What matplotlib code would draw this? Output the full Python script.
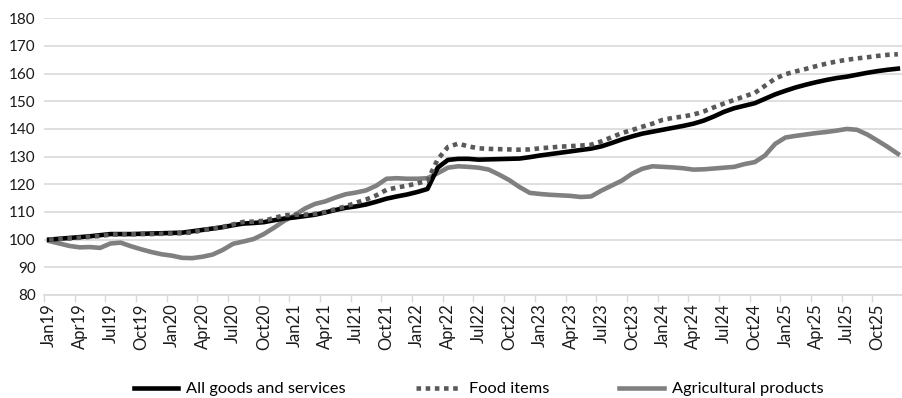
import numpy as np
import pandas as pd
import matplotlib
matplotlib.use("Agg")
import matplotlib.pyplot as plt

plt.rcParams['font.family'] = ['Lato', 'DejaVu Sans']

# monthly index, Jan 2019 = 100
months = pd.date_range('2019-01-01', '2025-12-01', freq='MS')
month_labels = [d.strftime('%b%y') for d in months]

all_goods = [
    100.0, 100.3, 100.6, 100.9, 101.2, 101.6, 102.0, 102.0, 102.0, 102.1, 102.2, 102.3,
    102.4, 102.5, 103.0, 103.5, 104.0, 104.5, 105.2, 105.8, 106.0, 106.3, 107.0, 107.6,
    108.0, 108.5, 109.0, 109.8, 110.7, 111.5, 112.0, 112.7, 113.7, 114.8, 115.6, 116.3,
    117.2, 118.3, 126.0, 128.8, 129.2, 129.2, 128.9, 129.0, 129.1, 129.2, 129.3, 129.8,
    130.4, 130.9, 131.4, 131.9, 132.4, 132.9, 133.7, 134.9, 136.2, 137.3, 138.3, 139.0,
    139.7, 140.4, 141.1, 141.9, 143.0, 144.5, 146.2, 147.5, 148.4, 149.3, 150.9, 152.5,
    153.8, 155.0, 156.0, 156.9, 157.7, 158.4, 158.9, 159.6, 160.3, 160.9, 161.4, 161.8,
]

food_items = [
    100.0, 100.2, 100.4, 100.7, 101.0, 101.3, 101.8, 101.9, 101.9, 102.0, 102.0, 102.1,
    102.2, 102.3, 102.6, 103.4, 103.9, 104.6, 105.5, 106.4, 106.5, 106.8, 107.8, 108.8,
    109.0, 109.0, 109.3, 110.0, 111.0, 112.0, 113.3, 114.5, 116.0, 118.0, 118.8, 119.5,
    120.3, 121.3, 129.0, 133.5, 134.7, 133.7, 133.0, 132.8, 132.7, 132.6, 132.5, 132.6,
    133.0, 133.3, 133.6, 133.8, 134.0, 134.3, 135.5, 137.0, 138.5, 139.6, 140.8, 141.9,
    143.3, 144.0, 144.5, 145.2, 146.3, 147.8, 149.2, 150.5, 151.8, 153.0, 155.6, 158.2,
    159.8, 160.8, 161.7, 162.7, 163.6, 164.4, 165.0, 165.5, 165.9, 166.4, 166.8, 167.0,
]

agri_products = [
    99.5, 98.6, 97.7, 97.2, 97.3, 97.0, 98.6, 98.9, 97.6, 96.5, 95.5, 94.7,
    94.2, 93.4, 93.3, 93.8, 94.6, 96.3, 98.5, 99.3, 100.2, 102.0, 104.3, 106.8,
    108.8, 111.2, 112.9, 113.8, 115.2, 116.4, 117.0, 117.8, 119.5, 122.0, 122.2, 122.0,
    122.0, 122.2, 124.0, 126.0, 126.5, 126.3, 126.0, 125.3, 123.5, 121.5, 119.0, 116.9,
    116.5, 116.2, 116.0, 115.8, 115.4, 115.6, 117.7, 119.5, 121.3, 123.8, 125.6, 126.5,
    126.3, 126.1, 125.8, 125.3, 125.4, 125.7, 126.0, 126.3, 127.3, 128.0, 130.4, 134.6,
    136.9, 137.5, 138.0, 138.5, 138.9, 139.4, 140.0, 139.7, 138.0, 135.8, 133.5, 131.0,
]

x = np.arange(len(months))

fig = plt.figure(figsize=(9.03, 3.98), dpi=100)
ax = fig.add_axes([0.0487, 0.259, 0.9513, 0.695])

ax.plot(x, all_goods, color='#000000', lw=3.3, label='All goods and services',
        solid_joinstyle='round', zorder=3)
ax.plot(x, food_items, color='#595959', lw=3.3, linestyle=(0, (1, 1)),
        dash_capstyle='butt', label='Food items', zorder=4)
ax.plot(x, agri_products, color='#808080', lw=3.3, label='Agricultural products',
        solid_joinstyle='round', zorder=2)

ax.set_ylim(80, 180)
ax.set_yticks(range(80, 181, 10))
ax.set_xlim(-0.5, 83.4)

# labels on every third month, tick marks between category groups
ax.set_xticks(x[::3])
ax.set_xticklabels(month_labels[::3], rotation=90)
ax.set_xticks(np.arange(-0.5, 84, 3), minor=True)
ax.tick_params(axis='x', which='major', length=0, pad=6, labelsize=12, colors='#1a1a1a')
ax.tick_params(axis='x', which='minor', length=5, color='#d9d9d9', width=1)
ax.tick_params(axis='y', length=0, pad=6, labelsize=11, colors='#1a1a1a')

ax.grid(axis='y', color='#d9d9d9', lw=1.2)
ax.set_axisbelow(True)
for side in ['left', 'right', 'top']:
    ax.spines[side].set_visible(False)
ax.spines['bottom'].set_color('#d9d9d9')
ax.spines['bottom'].set_linewidth(1.2)

fig.legend(loc='center', bbox_to_anchor=(0.53, 0.022), ncol=3, frameon=False,
           fontsize=11.8, handlelength=2.7, columnspacing=4.3, handletextpad=0.5)

fig.savefig('out.png', dpi=100)
